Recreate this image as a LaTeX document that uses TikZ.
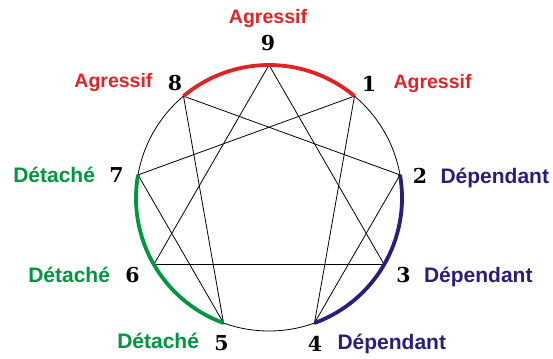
\documentclass[tikz,border=0pt]{standalone}
\usepackage{fontspec}
\newfontfamily\etiqfont{Liberation Sans}
\newfontfamily\chiffrefont{DejaVu Serif}
\usetikzlibrary{positioning,calc}
\definecolor{agressif}{RGB}{226,35,36}
\definecolor{dependant}{RGB}{40,30,125}
\definecolor{detache}{RGB}{0,150,64}

\begin{document}
\begin{tikzpicture}[x=1pt,y=1pt,
    chiffre/.style={font=\chiffrefont\fontsize{20.5}{20.5}\selectfont\bfseries, inner sep=0pt},
    etiq/.style={font=\etiqfont\fontsize{21}{21}\selectfont\bfseries, inner sep=0pt},
    etiqagr/.style={etiq, text=agressif, font=\etiqfont\fontsize{19.5}{19.5}\selectfont\bfseries},
    arcgras/.style={line width=3.8pt}]
    \useasboundingbox (0,0) rectangle (553,358);

    % Sommets
    \coordinate (c) at (269,160);
    \foreach \k in {1,...,9} {
        \coordinate (v\k) at ($(c)+({90-40*\k}:133)$);
    }

    % Cercle
    \draw[line width=0.8pt] (c) circle (133);

    % Enneagramme
    \draw[line width=0.8pt] (v1) -- (v4) -- (v2) -- (v8) -- (v5) -- (v7) -- cycle;
    \draw[line width=0.8pt] (v3) -- (v6) -- (v9) -- cycle;

    % Arcs
    \draw[agressif, arcgras] (v8) arc[start angle=130, end angle=50, radius=133];
    \draw[dependant, arcgras] (v2) arc[start angle=10, end angle=-70, radius=133];
    \draw[detache, arcgras] (v7) arc[start angle=170, end angle=250, radius=133];

    % Chiffres
    \node[chiffre] (n9) at (268,314.5) {9};
    \node[chiffre] (n1) at (369,274.5) {1};
    \node[chiffre] (n2) at (420,182.5) {2};
    \node[chiffre] (n3) at (403.5,82.5) {3};
    \node[chiffre] (n4) at (315,14.5) {4};
    \node[chiffre] (n5) at (221.5,14.5) {5};
    \node[chiffre] (n6) at (132.5,83) {6};
    \node[chiffre] (n7) at (116.5,182.5) {7};
    \node[chiffre] (n8) at (175,274.5) {8};

    % Etiquettes
    \node[etiqagr, above=12pt of n9, anchor=base] (e9) {Agressif};
    \node[etiqagr, left=15pt of n8.base west, anchor=base east, yshift=3pt] (e8) {Agressif};
    \node[etiqagr, right=17pt of n1.base east, anchor=base west, yshift=3pt] (e1) {Agressif};
    \node[etiq, text=dependant, right=13pt of n2.base east, anchor=base west] (e2) {Dépendant};
    \node[etiq, text=dependant, right=13pt of n3.base east, anchor=base west] (e3) {Dépendant};
    \node[etiq, text=dependant, right=15pt of n4.base east, anchor=base west, yshift=2pt] (e4) {Dépendant};
    \node[etiq, text=detache, left=15pt of n5.base west, anchor=base east, yshift=2pt] (e5) {Détaché};
    \node[etiq, text=detache, left=15pt of n6.base west, anchor=base east] (e6) {Détaché};
    \node[etiq, text=detache, left=14pt of n7.base west, anchor=base east] (e7) {Détaché};
\end{tikzpicture}
\end{document}
